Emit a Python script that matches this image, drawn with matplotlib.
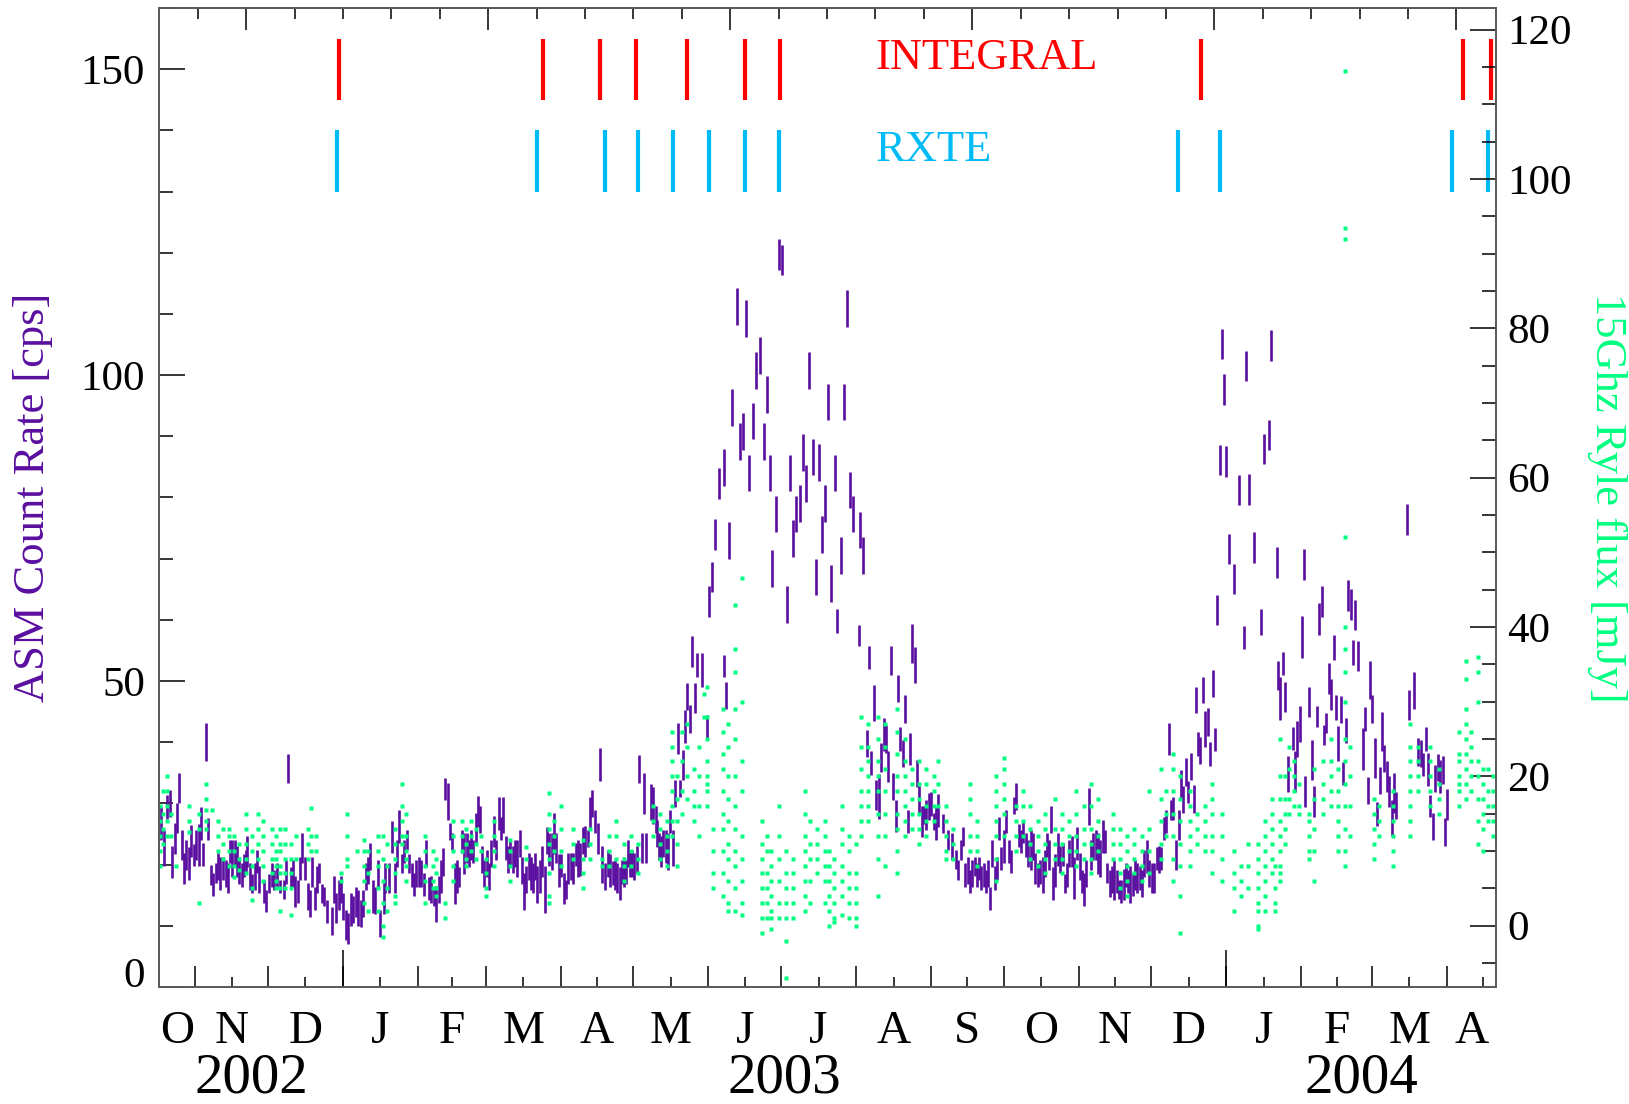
import numpy as np
import matplotlib
matplotlib.use('Agg')
import matplotlib.pyplot as plt
from matplotlib.ticker import MultipleLocator
from matplotlib.transforms import blended_transform_factory

plt.rcParams['font.family'] = ['Liberation Serif', 'DejaVu Serif']

MJD0 = 52564  # day offsets below are counted from this MJD

# RXTE/ASM daily count rate: day offset, rate [cps], 1-sigma error
asm_day = [
    0.7, 2.1, 3.4, 4.4, 5.5, 6.5, 7.6, 8.3, 9.4, 10.3,
    11.3, 12.4, 13.4, 14.5, 15.4, 16.5, 17.4, 18.3, 19.3, 20.4,
    21.6, 22.3, 23.4, 24.4, 25.3, 26.4, 27.5, 28.5, 29.3, 30.3,
    31.3, 32.2, 33.2, 34.2, 35.1, 35.9, 36.5, 37.6, 38.6, 39.5,
    40.5, 41.3, 43.5, 44.3, 45.4, 46.5, 47.5, 48.9, 49.9, 51.6,
    52.3, 53.3, 54.4, 55.4, 56.3, 57.3, 58.3, 59.2, 60.2, 61.4,
    62.3, 63.4, 64.3, 65.3, 66.2, 67.2, 68.2, 69.3, 71.3, 72.3,
    73.3, 74.4, 75.3, 76.2, 77.1, 78.2, 79.3, 80.3, 81.3, 82.2,
    83.3, 84.3, 85.4, 86.4, 87.3, 88.4, 89.4, 90.3, 91.3,
    92.8, 93.5, 95.2, 96.3, 97.4, 98.3, 99.3, 100.4, 101.4, 102.3,
    103.4, 104.4, 105.4, 106.3, 107.3, 108.4, 109.5, 110.5, 111.4, 112.4,
    113.5, 114.4, 115.6, 116.4, 117.3, 118.3, 119.3, 120.2, 121.2, 122.2,
    123.1, 124.1, 125.2, 126.2, 127.1, 128.0, 128.9, 129.9, 130.8, 131.8,
    132.6, 133.5, 134.4, 135.4, 136.4, 137.3, 138.4, 139.4, 140.3, 141.3,
    142.3, 143.2, 144.2, 145.2, 146.1, 147.1, 148.1, 149.0, 150.0, 150.7,
    151.8, 152.7, 153.7, 154.4, 155.5, 156.3, 157.3, 158.4, 159.4, 160.2,
    161.3, 162.2, 163.2, 164.2, 165.1, 166.2, 167.2, 168.2, 169.1, 170.2,
    171.2, 172.2, 173.1, 174.1, 175.2, 176.2, 177.1, 178.1, 179.0, 180.0,
    181.2, 182.2, 183.2, 184.1,
    185.6, 186.5, 187.6, 188.4, 189.4, 190.3, 191.2, 192.1, 193.0, 193.9,
    194.7, 195.6, 196.4, 197.4, 198.3, 199.4, 200.4, 201.3, 203.3, 204.2,
    205.2, 205.9, 206.7, 207.4, 208.4, 209.3, 210.3, 211.3, 212.2, 213.3,
    214.4, 215.4, 216.4, 217.3, 218.3, 219.2, 220.4, 221.3, 222.3, 224.2,
    226.3, 227.4, 228.3, 229.6, 231.3, 233.3, 233.5, 234.3, 235.6, 236.9,
    238.6, 239.9, 241.2, 242.5, 243.8, 245.5, 246.8, 248.1, 249.8, 251.1,
    252.4, 253.2, 254.9, 256.2, 257.5, 259.6, 260.5, 261.8, 263.1, 264.8,
    266.1, 267.4, 268.7, 270.0, 271.3, 272.6, 273.9, 275.2, 276.5, 277.8,
    279.1, 280.3, 281.6, 282.9, 284.2, 285.5, 286.8, 289.2, 289.7, 291.0,
    292.4, 293.2, 294.3, 295.3, 296.4, 297.3, 298.3, 299.4, 300.2, 301.2,
    302.3, 303.3, 304.4, 305.3, 306.3, 307.2, 308.2, 309.3, 310.3, 311.2,
    312.2, 313.2, 314.1, 315.1, 316.1, 317.0, 318.0, 319.1, 320.1, 321.0,
    322.0, 323.9, 326.0, 327.6, 329.3, 330.1, 331.2, 332.2, 333.1, 334.1,
    335.1, 336.0, 337.0, 337.8, 338.8, 339.8, 340.7, 341.7, 342.6, 343.5,
    344.3, 345.3, 346.2, 347.2, 348.0, 349.1, 350.1, 351.2, 352.1, 353.2,
    354.2, 355.2, 356.1, 357.1, 358.2, 359.2, 360.1, 361.1, 362.1, 363.2,
    364.1, 365.1, 366.1, 367.0, 367.8, 368.7,
    369.2, 370.2, 371.3, 372.3, 373.4, 374.3, 375.2, 376.1, 377.2, 378.2,
    379.2, 380.3, 381.2, 382.2, 383.1, 384.1, 385.1, 386.0, 387.0, 388.0,
    388.9, 389.9, 390.9, 391.8, 392.8, 393.8, 394.7, 395.7, 396.6, 397.6,
    398.6, 399.5, 400.5, 401.3, 402.3, 403.3, 404.2, 405.2, 406.2, 407.1,
    408.2, 409.2, 410.1, 411.2, 412.2, 413.2, 414.1, 415.1, 416.1, 417.2,
    418.1, 419.1, 420.2, 421.3, 422.3, 423.2, 424.2, 425.2, 426.3, 427.4,
    428.3, 429.3, 430.2, 431.4, 432.3, 433.3, 434.2, 435.3, 436.2, 437.3,
    438.3, 439.1, 440.0, 440.8, 442.1, 444.2, 446.0, 448.2, 449.0, 450.3,
    452.4, 455.3, 456.7, 458.4, 459.3, 461.9,
    462.3, 463.2, 464.3, 465.4, 466.5, 468.4, 469.4, 470.3, 471.3, 472.3,
    473.4, 475.3, 476.3, 477.2, 478.3, 479.4, 480.4, 481.3, 482.3, 483.4,
    484.4, 485.3, 486.3, 487.3, 488.4, 489.3, 490.3, 491.3, 492.4, 493.3,
    494.3, 495.3, 497.3, 498.3, 499.4, 500.4, 501.3, 502.3, 503.2, 504.3,
    505.3, 506.3, 507.2, 508.2, 509.3, 510.3, 511.2, 515.5, 516.3, 518.3,
    520.3, 521.3, 522.3, 523.4, 524.3, 525.3, 526.2, 527.3, 528.3, 529.3,
    530.4, 531.3, 532.3, 473.0,
]
asm_rate = [
    26.7, 22.7, 29.4, 30.0, 20.4, 24.3, 27.6, 32.5, 23.2, 19.4,
    21.6, 20.2, 23.9, 21.5, 23.2, 23.2, 26.7, 21.6, 40.1, 25.8,
    18.3, 16.7, 18.6, 19.7, 18.6, 19.4, 18.6, 17.8, 22.1, 21.0,
    21.8, 20.5, 19.1, 18.3, 19.9, 20.5, 22.1, 18.0, 16.9, 18.0,
    20.5, 17.5, 15.6, 14.1, 16.9, 18.3, 17.5, 18.3, 16.4, 15.9,
    18.8, 35.7, 18.0, 18.6, 15.6, 15.6, 19.4, 22.7, 19.4, 14.8,
    13.7, 18.8, 14.5, 17.5, 18.6, 15.3, 14.8, 12.3, 10.8, 15.9,
    12.9, 15.0, 15.9, 13.1, 10.1, 9.6, 12.6, 12.6, 13.9, 12.9,
    12.0, 13.7, 18.0, 19.1, 21.3, 14.8, 14.2, 18.6, 10.4,
    14.5, 17.8, 17.8, 24.5, 17.8, 21.8, 26.2, 20.2, 22.1, 24.0,
    20.2, 18.3, 16.7, 18.6, 18.8, 18.6, 16.7, 21.8, 16.1, 15.9,
    14.8, 13.6, 15.9, 18.0, 20.4, 32.4, 30.3, 25.4, 23.8, 16.9,
    18.0, 18.0, 23.8, 21.8, 22.7, 21.8, 23.2, 22.1, 25.9, 28.7,
    27.3, 20.8, 18.6, 20.2, 18.0, 21.8, 25.4, 22.4, 28.4, 25.9,
    28.1, 22.7, 20.8, 21.8, 20.8, 21.8, 21.0, 23.5, 19.1, 15.6,
    17.5, 19.7, 18.6, 17.8, 19.7, 16.7, 18.0, 20.5, 15.9, 24.0,
    22.4, 22.1, 25.1, 22.7, 19.1, 19.9, 16.1, 15.9, 19.4, 19.7,
    19.4, 21.6, 21.0, 20.8, 24.0, 23.8, 24.3, 28.4, 30.0, 27.0,
    24.3, 36.3, 20.0, 18.0,
    20.2, 19.1, 18.6, 18.3, 17.8, 16.9, 18.8, 18.8, 18.8, 21.8,
    20.2, 20.2, 19.7, 20.8, 35.6, 22.7, 31.6, 22.7, 30.2, 29.7,
    27.3, 25.1, 22.9, 22.1, 23.5, 22.9, 22.1, 27.0, 22.7, 31.6,
    40.6, 32.5, 36.3, 42.5, 47.4, 43.8, 54.8, 47.2, 52.6, 51.8,
    42.5, 63.0, 67.0, 73.9, 82.3, 52.5, 84.9, 47.7, 73.0, 94.7,
    111.2, 89.1, 90.8, 109.2, 84.0, 92.5, 100.7, 103.2, 89.1, 96.8,
    84.0, 68.4, 77.3, 119.7, 118.8, 62.5, 84.0, 73.3, 77.3, 79.0,
    87.4, 82.3, 100.7, 86.6, 67.0, 85.7, 73.9, 79.0, 95.6, 65.9,
    84.0, 59.8, 70.5, 95.6, 110.9, 81.2, 77.3, 57.5, 74.7, 70.5,
    39.8, 53.8, 36.6, 46.4, 31.4, 31.1, 37.5, 41.2, 40.5, 36.0,
    53.4, 32.7, 28.0, 48.8, 40.5, 38.2, 45.4, 27.0, 38.9, 56.1,
    52.6, 34.9, 30.6, 27.0, 28.1, 28.1, 29.5, 29.9, 27.0, 26.7,
    28.9, 26.7, 24.0, 22.9, 20.8, 19.1, 22.4, 24.6, 18.3, 19.1,
    17.2, 18.6, 19.7, 18.3, 19.4, 17.8, 18.3, 17.2, 18.6, 14.5,
    21.8, 17.8, 19.4, 25.9, 21.0, 22.9, 27.0, 22.1, 20.5, 29.7,
    31.1, 24.8, 23.8, 25.4, 23.2, 21.8, 22.4, 22.9, 19.4, 18.3,
    18.8, 18.3, 20.2, 23.2, 21.6, 27.3,
    16.9, 19.1, 22.4, 20.8, 21.6, 16.9, 18.3, 21.8, 22.1, 17.8,
    23.5, 19.7, 17.2, 15.9, 18.6, 29.5, 21.6, 22.9, 23.2, 21.8,
    21.0, 24.6, 23.8, 18.6, 16.9, 17.5, 17.5, 17.2, 15.9, 15.6,
    16.7, 18.3, 17.2, 16.7, 16.7, 18.3, 17.8, 17.8, 16.9, 20.2,
    21.3, 18.6, 17.8, 17.8, 21.0, 20.8, 21.0, 25.9, 27.0, 40.5,
    28.9, 29.2, 21.6, 26.5, 33.0, 30.6, 35.1, 31.8, 36.0, 30.7,
    46.9, 39.7, 38.7, 48.5, 42.2, 43.3, 38.1, 49.6, 40.4, 61.6,
    86.1, 105.1, 97.6, 85.9, 71.6, 66.7, 81.2, 57.1, 101.5, 81.3,
    71.8, 59.6, 87.9, 90.2, 104.8, 69.4,
    50.9, 47.2, 52.9, 47.4, 34.8, 40.6, 35.2, 40.5, 43.0, 57.2,
    31.9, 46.6, 37.1, 30.3, 44.2, 60.1, 63.0, 41.2, 43.1, 50.4,
    47.8, 55.5, 45.7, 39.8, 45.4, 34.9, 41.9, 64.0, 62.5, 54.7,
    60.8, 54.1, 38.9, 43.8, 32.1, 50.1, 45.4, 37.4, 28.3, 33.8,
    41.7, 37.4, 34.4, 31.9, 27.6, 31.7, 29.7, 76.4, 46.1, 48.4,
    38.4, 38.2, 36.3, 40.5, 35.5, 29.6, 26.2, 34.1, 35.8, 34.4,
    35.4, 25.3, 29.8, 69.0,
]
asm_err = [
    2.7, 3.0, 2.0, 2.2, 2.6, 2.5, 2.5, 2.5, 2.5, 2.5,
    2.5, 2.7, 2.6, 1.8, 2.5, 3.5, 2.7, 1.9, 3.1, 1.8,
    1.6, 1.9, 1.6, 2.2, 2.7, 1.9, 2.2, 2.5, 1.9, 3.0,
    2.2, 2.5, 2.2, 1.9, 1.9, 1.9, 2.5, 2.2, 1.6, 2.2,
    1.9, 2.2, 1.9, 1.8, 1.6, 1.9, 1.6, 1.9, 1.1, 1.6,
    1.9, 2.3, 1.6, 2.2, 2.5, 1.9, 1.9, 2.5, 1.9, 2.2,
    2.2, 2.5, 1.9, 2.2, 1.6, 1.6, 1.6, 1.9, 2.3, 2.2,
    2.5, 2.5, 2.2, 2.2, 2.5, 2.5, 2.7, 2.2, 2.5, 3.0,
    2.2, 2.2, 2.2, 2.2, 2.2, 2.7, 2.2, 2.2, 2.2,
    2.5, 2.5, 2.5, 2.6, 2.5, 2.2, 2.7, 1.6, 1.9, 1.6,
    1.6, 1.9, 1.9, 2.2, 2.5, 2.2, 1.9, 2.2, 1.9, 2.2,
    1.6, 2.9, 2.2, 2.7, 2.3, 1.8, 3.0, 1.4, 1.4, 3.3,
    2.7, 1.6, 1.9, 3.3, 2.5, 2.2, 2.5, 1.9, 2.5, 2.5,
    2.2, 2.2, 2.2, 2.2, 2.2, 2.2, 2.5, 1.6, 2.7, 1.9,
    3.0, 1.9, 2.2, 2.2, 2.2, 2.2, 3.0, 2.2, 2.2, 3.0,
    2.2, 2.2, 2.7, 2.5, 2.2, 3.0, 2.7, 2.5, 3.8, 2.2,
    2.7, 3.0, 3.3, 2.5, 2.7, 1.9, 2.5, 1.6, 2.5, 2.2,
    2.5, 1.9, 3.0, 2.7, 2.2, 2.5, 1.4, 2.7, 2.2, 1.9,
    2.5, 2.7, 3.0, 2.2,
    2.2, 2.7, 2.0, 2.5, 2.5, 2.7, 1.9, 2.5, 1.9, 2.2,
    2.2, 2.2, 2.2, 2.2, 2.3, 2.5, 3.3, 2.5, 2.9, 3.0,
    2.2, 2.2, 2.2, 2.5, 2.2, 2.7, 3.0, 1.9, 3.0, 2.2,
    2.5, 1.4, 2.5, 2.7, 2.2, 2.3, 2.5, 2.5, 1.9, 2.7,
    1.9, 2.5, 2.5, 2.5, 2.5, 1.8, 3.0, 2.2, 3.0, 3.0,
    3.0, 3.0, 3.0, 3.0, 3.0, 3.0, 3.0, 3.0, 3.0, 3.0,
    3.0, 3.0, 3.0, 2.5, 2.5, 3.0, 3.0, 3.0, 3.0, 3.0,
    3.0, 3.0, 3.0, 3.0, 3.0, 3.0, 3.0, 3.0, 3.0, 3.0,
    3.0, 1.9, 3.0, 3.0, 3.0, 3.0, 3.0, 1.7, 3.0, 3.0,
    2.2, 1.9, 1.9, 3.0, 2.5, 3.7, 2.3, 2.7, 2.3, 2.5,
    2.4, 2.2, 2.6, 2.2, 2.0, 2.2, 2.3, 1.9, 2.6, 3.2,
    2.9, 2.2, 2.2, 2.5, 1.4, 2.5, 2.2, 2.0, 1.4, 2.7,
    2.7, 1.6, 1.6, 2.2, 1.6, 1.6, 1.6, 1.6, 1.9, 2.2,
    1.9, 2.2, 1.6, 1.9, 1.9, 1.9, 1.9, 1.9, 2.2, 1.9,
    2.2, 1.9, 1.9, 1.9, 1.9, 2.7, 1.9, 1.9, 1.9, 1.4,
    2.2, 1.9, 1.9, 1.9, 1.9, 2.2, 3.3, 2.2, 2.5, 1.9,
    1.9, 3.0, 2.2, 1.9, 2.5, 2.2,
    2.7, 2.7, 2.7, 2.2, 1.9, 1.6, 1.9, 2.2, 2.5, 3.5,
    2.7, 2.2, 1.9, 2.7, 2.2, 3.0, 2.5, 2.2, 2.5, 3.3,
    3.0, 2.7, 1.9, 1.6, 2.2, 2.2, 3.3, 1.9, 1.6, 1.9,
    2.5, 1.9, 1.9, 3.0, 1.9, 2.5, 2.5, 1.9, 2.2, 2.2,
    2.7, 2.2, 2.5, 2.5, 1.9, 2.2, 1.9, 1.9, 1.9, 2.6,
    1.6, 1.9, 2.5, 2.5, 2.5, 2.2, 2.3, 1.8, 2.2, 2.3,
    2.2, 2.0, 2.2, 2.1, 2.9, 2.3, 2.0, 2.2, 1.9, 2.5,
    2.5, 2.5, 2.5, 2.5, 2.5, 2.5, 2.5, 1.9, 2.5, 2.5,
    2.5, 2.1, 2.5, 2.5, 2.5, 2.5,
    2.3, 3.5, 1.9, 2.5, 2.9, 1.9, 3.3, 2.9, 2.9, 3.5,
    2.5, 2.4, 3.3, 2.5, 1.7, 2.6, 2.5, 1.6, 1.6, 2.5,
    2.5, 2.0, 2.0, 2.9, 2.2, 1.9, 2.0, 2.5, 2.5, 2.0,
    2.5, 2.4, 3.5, 2.0, 2.2, 3.1, 2.3, 3.3, 2.0, 2.2,
    3.2, 2.2, 2.5, 2.5, 3.0, 3.3, 2.2, 2.5, 2.5, 3.0,
    2.3, 2.2, 1.9, 2.0, 2.7, 1.8, 2.2, 2.2, 2.2, 2.7,
    2.3, 2.3, 2.5, 2.5,
]

# Ryle telescope 15 GHz flux [mJy]: observing day offset and the samples of that day
ryle_day = [
    0.5, 1.5, 3.5, 5, 7, 12.5, 16.5, 19.5, 22, 24.5, 26.5, 29, 31, 33, 36,
    38.5, 41, 43, 46.5, 48.5, 50, 52, 54.5, 56.5, 61.5, 63, 65, 75, 77.5,
    82, 84.5, 86.5, 90.5,
    92.5, 94, 97.5, 100.5, 102, 110, 113, 114.5, 118.3, 121.5, 125, 127,
    129, 131, 133, 135, 138.5, 145, 151.5, 161, 163, 166, 171, 175, 178, 183,
    186, 189, 192, 195, 198, 204, 207, 210, 212, 214, 216, 218, 221, 223,
    225, 226.5, 229, 233, 235, 238, 241, 249, 251, 253, 256, 259, 262, 267,
    269, 272, 275,
    277, 279, 282, 285, 288, 290, 293, 297, 300, 305, 308, 311, 314, 317,
    320, 322, 325, 328, 335, 338, 346, 349, 354, 357, 360, 363, 366,
    370, 373, 376, 379, 382, 385, 388, 394, 397, 400, 403, 406, 409, 414,
    416, 419, 422, 426, 429, 432, 435, 439, 444, 447, 450, 454, 457, 460,
    461, 463, 465, 467, 469, 471, 475, 477, 481, 484, 487, 490, 492, 502,
    504, 510, 517, 520, 525, 529, 537, 540, 542, 545, 547, 549, 551,
]
ryle_flux = [
    [16, 14, 12, 10, 8], [18, 15, 13, 11], [20, 18, 16, 14, 12], [15, 12], [8],
    [16, 14, 12.5], [15, 13, 3], [19, 17, 15.5, 14, 13], [15.5], [14, 12, 10],
    [13, 11, 9], [13, 12, 10, 8], [12, 10, 8, 6.5], [11, 9, 7.5], [15, 13, 11, 9, 7],
    [12, 10, 8, 5, 3.5], [15, 13, 11, 9], [14, 12, 10, 8, 6], [13, 11, 9, 7],
    [12, 10, 9, 8, 6, 5], [13, 11, 10, 8, 7, 5, 2], [13, 11, 9, 7, 5],
    [11, 9, 7, 5, 1.5], [12, 9], [13, 11, 9], [15.8, 12, 10], [12, 10], [7, 6],
    [15, 12, 9, 8], [10], [11.5, 10, 8, 6, 3], [10, 7, 2], [12, 10, 8, 5, 2],
    [12, 9, 6, 3, 0, -1.5], [11, 8, 5, 2], [13, 11, 9, 7, 4, 3],
    [19, 16, 14, 12, 11], [15, 12, 10, 9, 8, 6], [12, 10, 8, 6, 3], [10, 8, 6, 5],
    [9, 7, 5, 4], [3, 1], [14, 12, 10, 8, 6], [14, 12, 10], [13, 11, 9, 8],
    [14, 12, 10], [13, 11, 9], [12, 10], [9, 7, 5, 4], [14, 12, 10, 8],
    [11.5, 10, 8, 6], [10.5, 9], [17.8, 15, 13, 11, 9, 7, 4, 3], [14, 12, 10],
    [16, 13, 10, 8], [13, 11, 9], [11.5, 9, 7, 5], [13, 11, 9], [9, 8],
    [12, 10, 8], [14, 12, 9], [11, 9, 8, 6], [12, 10, 8], [11, 9, 7],
    [16, 14, 12], [15, 13, 11, 9], [14, 12, 10, 8], [26, 24, 22, 20, 18, 16, 14, 12],
    [20, 17, 14, 11, 8], [26, 22, 18, 15], [27, 24, 20, 17], [21, 18, 16, 14],
    [24, 20, 16, 12], [31, 28], [32, 28, 25, 22, 20, 19, 18, 16], [13, 10, 7, 5],
    [29, 26, 23, 21, 18, 15, 13, 10, 7, 4], [27, 24, 20, 17, 14, 11, 9, 6, 3, 2],
    [43, 37, 34, 29, 25, 20, 16, 13, 10, 8, 5, 2],
    [46.5, 30, 22, 18, 12, 9, 6, 3, 1.5], [14, 11, 9, 7, 5, 3, 1, -1],
    [12, 10, 7, 5, 3, 1], [10, 8, 6, 4, 2, 1, -0.5], [16, 12, 9, 6, 3, 1],
    [10, 7, 5, 3, 1, -2, -7], [9, 7, 5, 3, 1], [18, 15, 12, 10, 8, 6, 4, 2],
    [14, 11, 9, 6, 3], [13, 11, 9, 7], [14, 12, 10, 8, 6, 3],
    [10, 8, 6, 4, 2, 0], [9, 7, 5, 3, 1, 0.5], [16, 13, 11, 8, 6, 4, 1.5],
    [12, 10, 7, 5, 3, 1], [11, 7, 5, 3, 1, 0], [28, 24, 21, 18, 16, 14, 12],
    [27, 24, 22, 20, 18, 16, 14], [28, 25, 22, 20, 18, 15, 12, 9, 4],
    [27, 24, 21, 18, 15, 12, 8], [29, 26, 23, 20, 18, 15, 13, 10, 7],
    [25, 22, 20, 18, 16, 14, 12], [21, 19, 17, 15, 13], [22, 19, 17, 15, 13, 11],
    [21, 19, 16, 14, 12], [20, 18, 16, 14], [22, 19, 16], [16, 14, 12, 10, 9],
    [13, 11, 9], [19, 17, 15, 12, 10], [14, 12, 10, 8], [20, 18, 16, 14, 12, 9, 6],
    [22.5, 21, 19, 17, 15, 12], [16, 14, 12, 10], [18, 16, 14, 12], [16, 13, 11, 9],
    [14, 12, 10, 8], [15, 13, 11, 9, 7],
    [17, 13, 11, 9], [15, 13, 11, 9, 7], [14, 12, 10], [18, 15, 12, 10, 8],
    [16, 13, 11, 9], [19, 16, 13, 11, 9, 7], [17, 14, 12, 10], [15, 13, 11, 9],
    [13, 11, 9, 7, 5], [12, 10, 8, 6, 4], [13, 11, 9, 7], [12, 10, 8, 6],
    [18, 13, 10, 7], [21, 17, 14, 11, 9], [18, 15, 12], [23, 21, 18, 15, 12, 9, 6],
    [20, 17, 14, 11, 8, 4, -1], [18, 16, 14, 12, 10, 8], [15, 13, 11],
    [16, 14, 12, 10], [19, 17, 15, 12, 10, 7], [15, 12, 9, 6], [10, 7, 5, 2],
    [8, 6, 4], [11, 8, 5], [11, 9, 7, 5, 3, 2, 0, -0.5], [14, 12, 10, 8, 6, 4, 2],
    [17, 15, 13, 11, 9, 7],
    [8, 5, 3, 2], [25, 20, 17, 14, 12, 10, 8, 7, 6], [20, 17, 15, 13, 11],
    [24, 21, 17, 15], [22, 20, 18, 16], [19, 16, 15], [15, 14, 12, 10, 9],
    [21, 17, 13, 10, 6], [22, 19, 17, 15], [25, 22, 20, 18, 16],
    [21, 18, 16, 14, 12, 10],
    [114.5, 93.5, 92, 52, 40, 37, 34, 30, 25, 22, 19, 16, 13, 10, 8],
    [24, 20, 16, 12], [17, 15, 13, 11, 9], [16, 14, 12], [18, 16, 14, 12, 10, 8],
    [27, 24, 22, 20, 18, 16, 14, 12], [24, 22, 20, 18], [24, 22, 20, 18, 16],
    [21, 19, 17, 15], [26, 23, 22, 20, 19, 18, 16],
    [35.5, 33, 29, 27, 25, 23, 21, 19, 17], [26, 24, 22, 20, 18],
    [36, 34, 30, 22, 20, 17, 14, 11], [21, 19, 17, 15, 13, 10], [21, 18, 16, 14],
    [20, 18, 16, 14, 12],
]

# pointed observation epochs (day offsets)
integral_day = [74.3, 158.8, 182.4, 197.0, 218.0, 242.1, 256.7, 430.5, 538.6, 550.3]
rxte_day = [73.4, 156.2, 184.1, 197.9, 212.5, 227.1, 242.1, 256.3, 421.1, 438.3, 534.0, 549.0]

month_letters = ['O', 'N', 'D', 'J', 'F', 'M', 'A', 'M', 'J', 'J', 'A', 'S',
                 'O', 'N', 'D', 'J', 'F', 'M', 'A']
year_names = ['2002', '2003', '2004']

purple = '#5a0f9f'
green = '#00ff80'
red = '#ff0000'
cyan = '#00bbf5'

EPOCH = np.datetime64('1858-11-17', 'D')


def to_mjd(dates):
    return (np.asarray(dates).astype('datetime64[D]') - EPOCH).astype(int)


t_lo, t_hi = MJD0, MJD0 + 552.4

month_start = to_mjd(np.arange(np.datetime64('2002-10'), np.datetime64('2004-06'),
                               np.timedelta64(1, 'M')))
month_mid = (month_start[:-1] + month_start[1:]) / 2
year_start = to_mjd(np.arange(np.datetime64('2002'), np.datetime64('2006'),
                              np.timedelta64(1, 'Y')))

fig = plt.figure(figsize=(16.29, 11.04), dpi=100)
ax = fig.add_axes([0.0976, 0.106, 0.8208, 0.8868])
ax2 = ax.twinx()

# ASM light curve
ax.errorbar(MJD0 + np.array(asm_day), asm_rate, yerr=asm_err, fmt='none',
            ecolor=purple, elinewidth=1.9, capsize=0, zorder=2)

# Ryle 15 GHz points
rx = [MJD0 + d for d, vals in zip(ryle_day, ryle_flux) for v in vals]
ry = [v for vals in ryle_flux for v in vals]
ax2.plot(rx, ry, linestyle='none', marker='s', ms=2.3, color=green, mec='none')

# observation markers
ax.vlines(MJD0 + np.array(integral_day), 145, 155, color=red, lw=3)
ax.vlines(MJD0 + np.array(rxte_day), 130, 140, color=cyan, lw=3)
ax.text(MJD0 + 296, 150, 'INTEGRAL', color=red, fontsize=32, va='baseline')
ax.text(MJD0 + 296, 135, 'RXTE', color=cyan, fontsize=32, va='baseline')

ax.set_xlim(t_lo, t_hi)
ax.set_ylim(0, 160)
ax2.set_ylim(-8.2, 122.9)

spine_col = '#5a5a5a'
for a in (ax, ax2):
    for s in a.spines.values():
        s.set_color(spine_col)
        s.set_linewidth(1.3)

# left axis
ax.set_yticks([0, 50, 100, 150])
ax.yaxis.set_minor_locator(MultipleLocator(10))
ax.tick_params(axis='y', which='major', direction='in', length=19, width=1.1,
               labelsize=31, pad=10)
ax.tick_params(axis='y', which='minor', direction='in', length=10, width=1.1)
ax.yaxis.get_major_ticks()[0].label1.set_verticalalignment('baseline')
ax.set_ylabel('ASM Count Rate [cps]', color=purple, fontsize=32)
ax.yaxis.set_label_coords(-0.079, 0.5)

# right axis
ax2.yaxis.set_major_locator(MultipleLocator(20))
ax2.yaxis.set_minor_locator(MultipleLocator(5))
ax2.tick_params(axis='y', which='major', direction='in', length=19, width=1.1,
                labelsize=31, pad=8)
ax2.tick_params(axis='y', which='minor', direction='in', length=10, width=1.1)
ax2.set_ylabel('15Ghz Ryle flux [mJy]', color=green, fontsize=32,
               rotation=270, va='bottom')
ax2.yaxis.set_label_coords(1.068, 0.5)

# bottom axis: month boundaries, mid-month ticks, year boundaries
ax.set_xticks(month_start[(month_start > t_lo) & (month_start < t_hi)])
ax.set_xticks(month_mid[(month_mid > t_lo) & (month_mid < t_hi)], minor=True)
ax.tick_params(axis='x', which='major', direction='in', length=15, width=1.1,
               labelbottom=False, top=False)
ax.tick_params(axis='x', which='minor', direction='in', length=7.5, width=1.1,
               top=False)

yr = ax.secondary_xaxis('bottom')
yr.set_xticks(year_start[(year_start > t_lo) & (year_start < t_hi)])
yr.tick_params(axis='x', direction='in', length=27, width=1.1, labelbottom=False)
yr.spines['bottom'].set_visible(False)

# top axis: MJD ticks without labels
top = ax.secondary_xaxis('top')
top.xaxis.set_major_locator(MultipleLocator(100))
top.xaxis.set_minor_locator(MultipleLocator(20))
top.tick_params(axis='x', which='major', direction='in', length=16, width=1.1,
                labeltop=False)
top.tick_params(axis='x', which='minor', direction='in', length=8, width=1.1)
top.spines['top'].set_visible(False)

trans = blended_transform_factory(ax.transData, ax.transAxes)
for i, letter in enumerate(month_letters):
    lo = max(month_start[i], t_lo)
    hi = min(month_start[i + 1], t_hi)
    ax.text((lo + hi) / 2, -0.0572, letter, transform=trans, ha='center',
            va='baseline', fontsize=34)
for i, name in enumerate(year_names):
    lo = max(year_start[i], t_lo)
    hi = min(year_start[i + 1], t_hi)
    ax.text((lo + hi) / 2, -0.1075, name, transform=trans, ha='center',
            va='baseline', fontsize=41)

fig.savefig('out.png', dpi=100)
